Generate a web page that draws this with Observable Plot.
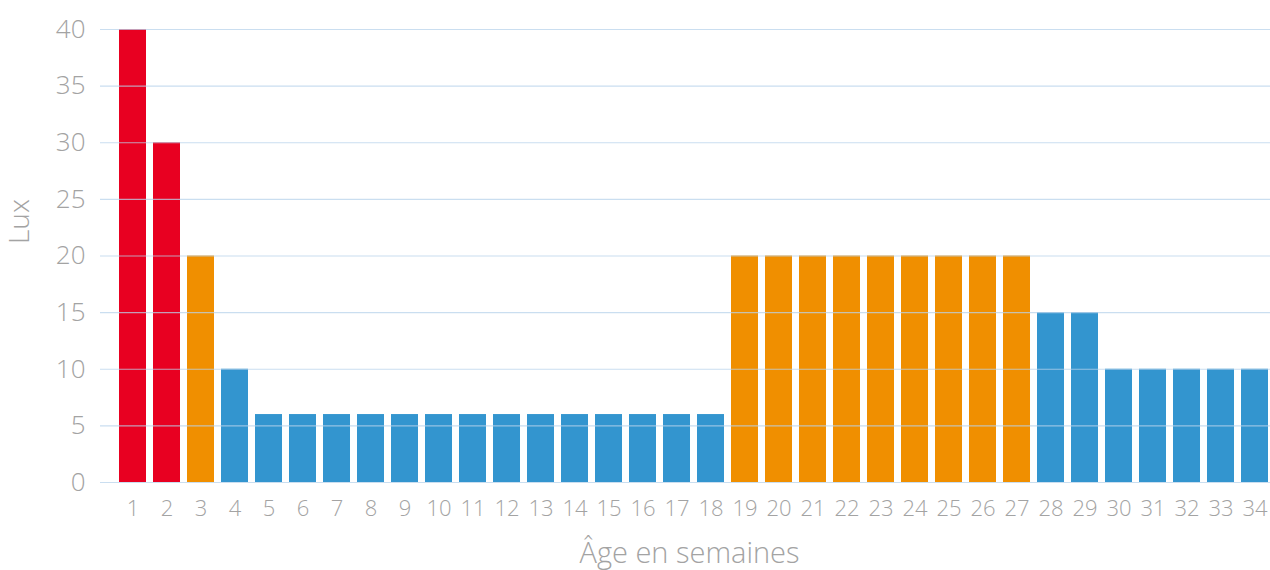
<!DOCTYPE html>
<html>
<head>
<meta charset="utf-8">
<script src="https://cdn.jsdelivr.net/npm/d3@7"></script>
<script src="https://cdn.jsdelivr.net/npm/@observablehq/plot@0.6"></script>
<style>
  html, body { margin: 0; padding: 0; background: #fff; }
  svg { display: block; }
</style>
</head>
<body>
<div id="chart"></div>
<script>
const weeks = ["1","2","3","4","5","6","7","8","9","10","11","12","13","14","15","16","17","18","19","20","21","22","23","24","25","26","27","28","29","30","31","32","33","34"];
const lux = [40,30,20,10,6,6,6,6,6,6,6,6,6,6,6,6,6,6,20,20,20,20,20,20,20,20,20,15,15,10,10,10,10,10];
const level = ["fort","fort","moyen","faible","faible","faible","faible","faible","faible","faible","faible","faible","faible","faible","faible","faible","faible","faible","moyen","moyen","moyen","moyen","moyen","moyen","moyen","moyen","moyen","faible","faible","faible","faible","faible","faible","faible"];
const levels = ["fort","moyen","faible"];
const levelColors = ["#e80021","#f08f00","#3395cf"];
const yTicks = [0,5,10,15,20,25,30,35,40];
const yTitle = "Lux";
const xTitle = "Âge en semaines";

const data = weeks.map((w, i) => ({week: w, lux: lux[i], level: level[i]}));

const font = "'Open Sans', Lato, sans-serif";
const gray = "#a3a3a3";

const chart = Plot.plot({
  width: 1270,
  height: 570,
  marginLeft: 100,
  marginRight: 0,
  marginTop: 29,
  marginBottom: 88,
  style: {fontFamily: font, fontWeight: 300, color: gray, background: "#fff"},
  x: {domain: weeks, range: [118, 1270], paddingInner: 0.2, paddingOuter: 0},
  y: {domain: [0, 40]},
  color: {domain: levels, range: levelColors},
  marks: [
    Plot.barY(data, {x: "week", y: "lux", fill: "level"}),
    Plot.ruleY(yTicks, {stroke: "#b8d3eb", strokeOpacity: 0.75, strokeWidth: 1.2}),
    Plot.axisY(yTicks, {tickSize: 0, tickPadding: 15, fontSize: 26, fill: gray, label: null}),
    Plot.axisX({tickSize: 0, tickPadding: 18, fontSize: 22, fill: gray, label: null}),
    Plot.text([yTitle], {frameAnchor: "left", dx: -80, dy: -12, rotate: -90, fontSize: 28, fill: gray, text: d => d}),
    Plot.text([xTitle], {frameAnchor: "bottom", dy: 80, dx: 4, fontSize: 29, fill: gray, text: d => d})
  ]
});

document.getElementById("chart").appendChild(chart);
</script>
</body>
</html>
